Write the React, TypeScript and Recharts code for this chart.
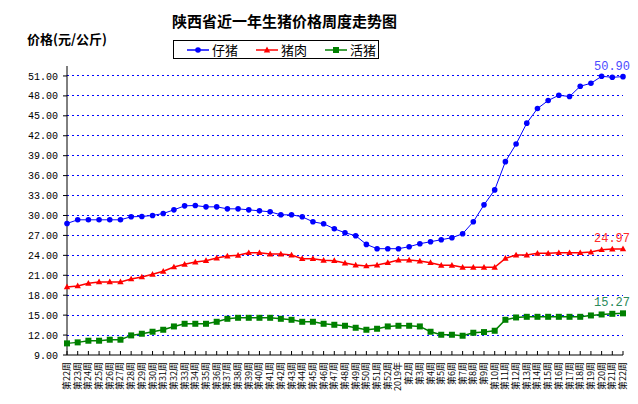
import React from "react";
import {
  LineChart,
  Line,
  XAxis,
  YAxis,
  ReferenceLine,
  LabelList,
} from "recharts";

// 2018年第22周 ~ 2019年第22周
const weeks = [
  "第22周", "第23周", "第24周", "第25周", "第26周", "第27周", "第28周", "第29周",
  "第30周", "第31周", "第32周", "第33周", "第34周", "第35周", "第36周", "第37周",
  "第38周", "第39周", "第40周", "第41周", "第42周", "第43周", "第44周", "第45周",
  "第46周", "第47周", "第48周", "第49周", "第50周", "第51周", "第52周", "2019年",
  "第2周", "第3周", "第4周", "第5周", "第6周", "第7周", "第8周", "第9周",
  "第10周", "第11周", "第12周", "第13周", "第14周", "第15周", "第16周", "第17周",
  "第18周", "第19周", "第20周", "第21周", "第22周",
];

const zizhu = [
  28.8, 29.35, 29.35, 29.35, 29.35, 29.35, 29.8, 29.85, 30.0, 30.3,
  30.85, 31.45, 31.5, 31.3, 31.3, 31.0, 31.0, 30.85, 30.7, 30.55,
  30.1, 30.1, 29.8, 29.05, 28.75, 28.0, 27.4, 26.95, 25.65, 25.0,
  25.0, 25.0, 25.3, 25.75, 26.05, 26.35, 26.65, 27.25, 29.05, 31.6,
  33.85, 38.1, 40.75, 43.9, 46.1, 47.3, 48.1, 47.9, 49.45, 49.9,
  50.95, 50.8, 50.9,
];

const zhurou = [
  19.25, 19.4, 19.8, 20.0, 20.0, 20.0, 20.45, 20.75, 21.15, 21.6,
  22.25, 22.65, 23.0, 23.2, 23.6, 23.9, 24.0, 24.4, 24.4, 24.2,
  24.2, 24.05, 23.5, 23.5, 23.25, 23.2, 22.85, 22.55, 22.4, 22.55,
  22.9, 23.3, 23.3, 23.15, 22.9, 22.5, 22.5, 22.2, 22.2, 22.2,
  22.2, 23.55, 24.05, 24.05, 24.3, 24.3, 24.4, 24.4, 24.4, 24.5,
  24.85, 24.95, 24.97,
];

const huozhu = [
  10.75, 10.9, 11.15, 11.15, 11.3, 11.3, 11.95, 12.2, 12.5, 12.8,
  13.3, 13.7, 13.7, 13.7, 14.0, 14.45, 14.6, 14.6, 14.6, 14.6,
  14.45, 14.3, 14.0, 14.0, 13.7, 13.55, 13.4, 13.1, 12.8, 12.95,
  13.3, 13.4, 13.4, 13.3, 12.5, 12.05, 12.05, 11.9, 12.35, 12.45,
  12.65, 14.3, 14.65, 14.75, 14.75, 14.75, 14.75, 14.75, 14.75, 14.95,
  15.1, 15.2, 15.27,
];

const yTicks = [9, 12, 15, 18, 21, 24, 27, 30, 33, 36, 39, 42, 45, 48, 51];

const data = weeks.map((w, i) => ({
  week: w,
  zizhu: zizhu[i],
  zhurou: zhurou[i],
  huozhu: huozhu[i],
}));

const CJK = '"Noto Sans CJK SC", sans-serif';
const MONO = '"Liberation Mono", monospace';
const last = weeks.length - 1;

const Circle = ({ cx, cy }: any) =>
  cx == null ? null : <circle cx={cx} cy={cy} r={2.8} fill="#0000ff" />;

const Tri = ({ cx, cy }: any) =>
  cx == null ? null : (
    <polygon
      points={`${cx},${cy - 3.3} ${cx - 3.2},${cy + 2.4} ${cx + 3.2},${cy + 2.4}`}
      fill="#ff0000"
    />
  );

const Sq = ({ cx, cy }: any) =>
  cx == null ? null : (
    <rect x={cx - 3} y={cy - 3} width={6} height={6} fill="#008000" />
  );

const WeekTick = ({ x, y, payload }: any) => (
  <g>
    <line x1={x} y1={y - 4} x2={x} y2={y} stroke="#000" />
    <text
      x={x + 3}
      y={y + 7}
      transform={`rotate(-90 ${x + 3} ${y + 7})`}
      textAnchor="end"
      fontSize={9}
      fontFamily={CJK}
      fill="#000"
    >
      {payload.value}
    </text>
  </g>
);

const endLabel = (color: string) => (props: any) => {
  const { x, y, value, index } = props;
  if (index !== last) return null;
  return (
    <text
      x={x + 7}
      y={y - 7}
      textAnchor="end"
      fontSize={12}
      fontFamily={MONO}
      fill={color}
    >
      {Number(value).toFixed(2)}
    </text>
  );
};

const LegendItem = ({ left, color, marker, label }: any) => (
  <div
    style={{
      position: "absolute",
      left,
      top: 0,
      height: 17,
      display: "flex",
      alignItems: "center",
      whiteSpace: "nowrap",
    }}
  >
    <svg width={22} height={10}>
      <line x1={0} y1={5} x2={22} y2={5} stroke={color} strokeWidth={1.5} />
      {marker === "circle" && <circle cx={11} cy={5} r={2.8} fill={color} />}
      {marker === "tri" && (
        <polygon points="11,1.5 7.8,7.5 14.2,7.5" fill={color} />
      )}
      {marker === "sq" && <rect x={8} y={2} width={6} height={6} fill={color} />}
    </svg>
    <span style={{ marginLeft: 3, fontSize: 13, lineHeight: "17px" }}>
      {label}
    </span>
  </div>
);

export default function App() {
  return (
    <div
      style={{
        position: "absolute",
        left: 0,
        top: 0,
        width: 638,
        height: 404,
        background: "#fff",
        fontFamily: CJK,
      }}
    >
      <div
        style={{
          position: "absolute",
          left: 172,
          top: 10,
          fontSize: 15,
          fontWeight: "bold",
          whiteSpace: "nowrap",
        }}
      >
        陕西省近一年生猪价格周度走势图
      </div>
      <div
        style={{
          position: "absolute",
          left: 27,
          top: 29,
          fontSize: 13,
          fontWeight: "bold",
          whiteSpace: "nowrap",
        }}
      >
        价格(元/公斤)
      </div>
      <div
        style={{
          position: "absolute",
          left: 173,
          top: 40,
          width: 206,
          height: 19,
          border: "1px solid #000",
          boxSizing: "border-box",
          zIndex: 2,
          background: "#fff",
        }}
      >
        <LegendItem left={13} color="#0000ff" marker="circle" label="仔猪" />
        <LegendItem left={82} color="#ff0000" marker="tri" label="猪肉" />
        <LegendItem left={151} color="#008000" marker="sq" label="活猪" />
      </div>
      <LineChart
        width={638}
        height={404}
        data={data}
        margin={{ top: 66, right: 15, bottom: 4, left: 8 }}
      >
        {yTicks.slice(1).map((v) => (
          <ReferenceLine
            key={v}
            y={v}
            stroke="#0000ff"
            strokeWidth={1}
            strokeDasharray="2 3"
            shapeRendering="crispEdges"
          />
        ))}
        <XAxis
          dataKey="week"
          interval={0}
          height={45}
          tickSize={0}
          tickMargin={0}
          tick={<WeekTick />}
          axisLine={{ stroke: "#000" }}
        />
        <YAxis
          width={59}
          domain={[9, 52.5]}
          ticks={yTicks}
          tickSize={4}
          tickMargin={5}
          tickFormatter={(v: number) => v.toFixed(2)}
          tick={{ fontSize: 10, fontFamily: MONO, fill: "#000" }}
          axisLine={{ stroke: "#000" }}
          tickLine={{ stroke: "#000" }}
        />
        <Line
          dataKey="zizhu"
          stroke="#0000ff"
          strokeWidth={1}
          dot={<Circle />}
          isAnimationActive={false}
        >
          <LabelList dataKey="zizhu" content={endLabel("#4b4bff")} />
        </Line>
        <Line
          dataKey="zhurou"
          stroke="#ff0000"
          strokeWidth={1.5}
          dot={<Tri />}
          isAnimationActive={false}
        >
          <LabelList dataKey="zhurou" content={endLabel("#ff2a2a")} />
        </Line>
        <Line
          dataKey="huozhu"
          stroke="#008000"
          strokeWidth={1.5}
          dot={<Sq />}
          isAnimationActive={false}
        >
          <LabelList dataKey="huozhu" content={endLabel("#2a8a5a")} />
        </Line>
      </LineChart>
    </div>
  );
}
